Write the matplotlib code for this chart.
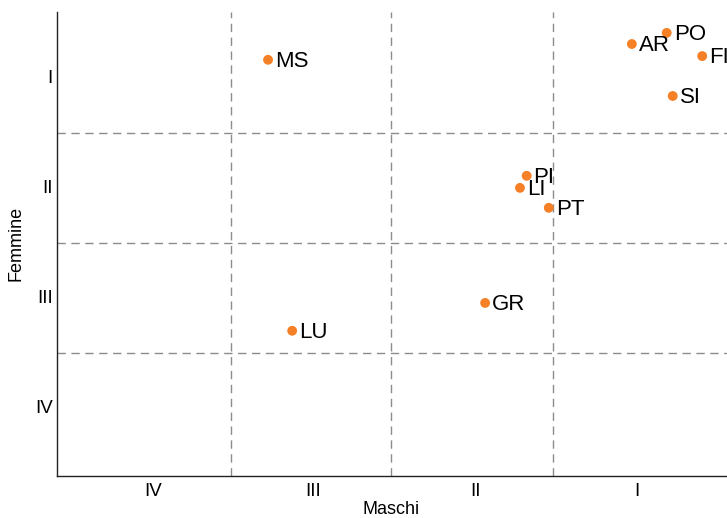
import matplotlib
matplotlib.use("Agg")
import matplotlib.pyplot as plt

plt.rcParams['font.family'] = ['Liberation Sans', 'DejaVu Sans']

labels = ["MS", "AR", "PO", "FI", "SI", "PI", "LI", "PT", "GR", "LU"]
maschi = [31.5, 85.8, 91.0, 96.3, 91.9, 70.1, 69.1, 73.4, 63.9, 35.1]
femmine = [89.7, 93.1, 95.5, 90.5, 81.9, 64.7, 62.1, 57.8, 37.3, 31.3]

x_bounds = [26.0, 49.85, 74.0]
y_bounds = [26.5, 50.2, 73.9]
x_tick_pos = [14.3, 38.2, 62.5, 86.6]
x_tick_lab = ["IV", "III", "II", "I"]
y_tick_pos = [86.0, 62.3, 38.6, 14.9]
y_tick_lab = ["I", "II", "III", "IV"]

fig = plt.figure(figsize=(7.27, 5.18), dpi=100)
ax = fig.add_axes([57/727, 42/518, 670/727, 464/518])
ax.set_xlim(0, 100)
ax.set_ylim(0, 100)

for xb in x_bounds:
    ax.axvline(xb, color="#8c8c8c", lw=1, ls=(0, (6, 4)), zorder=1)
for yb in y_bounds:
    ax.axhline(yb, color="#8c8c8c", lw=1, ls=(0, (6, 4)), zorder=1)

ax.scatter(maschi, femmine, s=50, color="#f58025", zorder=3, clip_on=False, edgecolors="none")
for lab, x, y in zip(labels, maschi, femmine):
    ax.annotate(lab, (x, y), xytext=(5, -1), textcoords="offset points",
                ha="left", va="center", fontsize=16, color="black", annotation_clip=False)

ax.set_xticks(x_tick_pos)
ax.set_xticklabels(x_tick_lab, fontsize=13.5)
ax.set_yticks(y_tick_pos)
ax.set_yticklabels(y_tick_lab, fontsize=13.5)
ax.tick_params(axis="x", length=0, pad=5)
ax.tick_params(axis="y", length=0, pad=3)
ax.set_xlabel("Maschi", fontsize=13)
ax.set_ylabel("Femmine", fontsize=13)
ax.xaxis.label.set_va("center")
ax.yaxis.label.set_va("center")
ax.xaxis.set_label_coords((391 - 57) / 670, (476 - 509) / 464)
ax.yaxis.set_label_coords((16 - 57) / 670, (476 - 243) / 464)

for s in ["top", "right"]:
    ax.spines[s].set_visible(False)
for s in ["left", "bottom"]:
    ax.spines[s].set_color("#222222")
    ax.spines[s].set_linewidth(1)

fig.savefig("out.png", dpi=100)
